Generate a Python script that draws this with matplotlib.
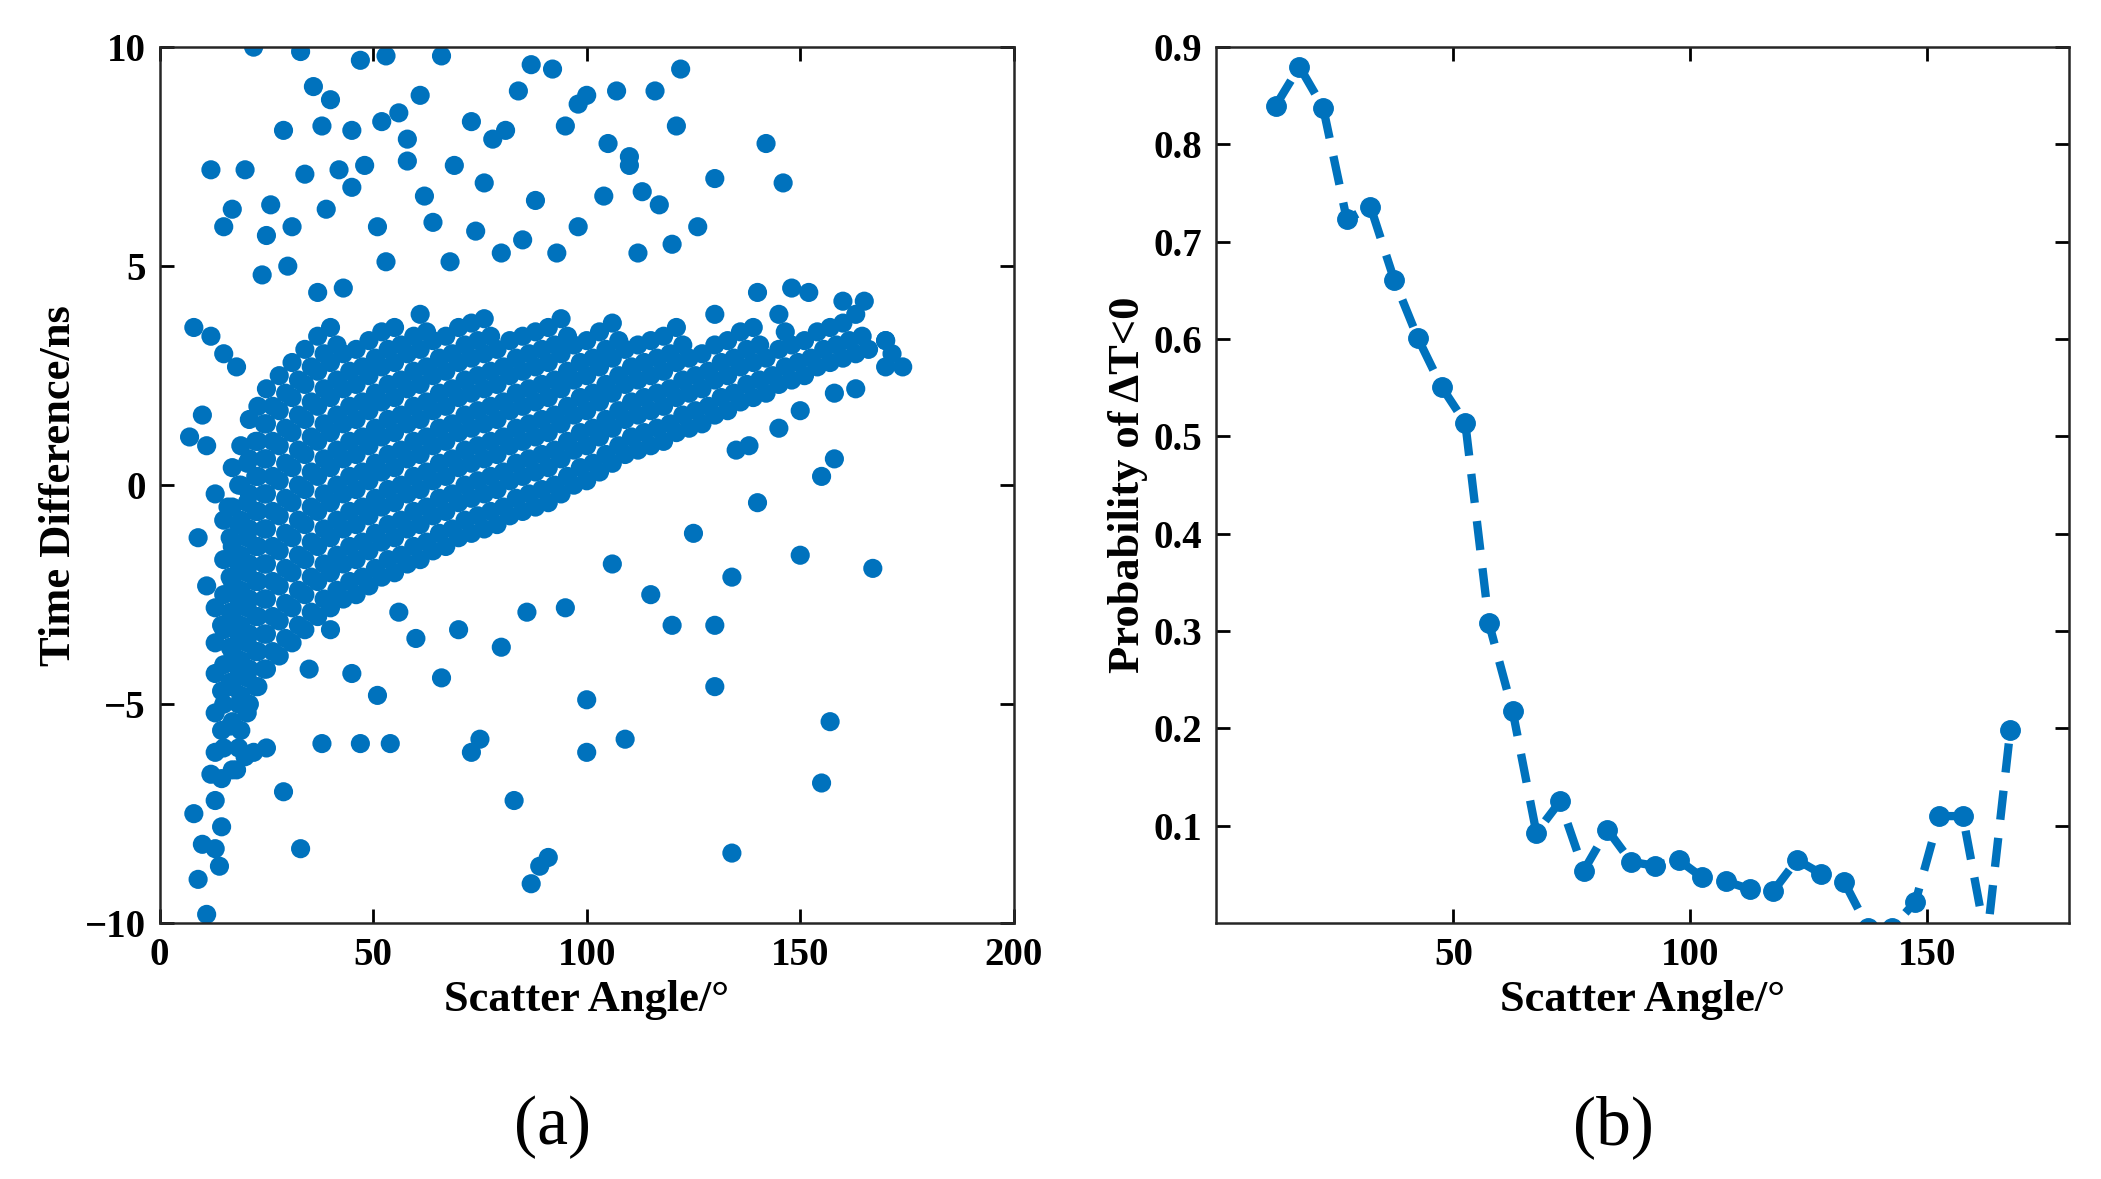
import matplotlib
matplotlib.use("Agg")
import matplotlib.pyplot as plt

# ---- panel (a): scatter of time difference vs scatter angle ----
# dense band, one column of y values per angle
band_x = [13, 15, 17, 19, 21, 23, 25, 28, 31, 34, 37, 40, 43, 46, 49, 52, 55, 58, 61, 64,
          67, 70, 73, 76, 79, 82, 85, 88, 91, 94, 97, 100, 103, 106, 109, 112, 115, 118, 121,
          124, 127, 130, 133, 136, 139, 142, 145, 148, 151, 154, 157, 160, 163, 166, 170]
band_y = [
    [-5.2, -4.3, -3.6, -2.8, -6.1, -7.2, -8.3],
    [-6, -5, -4.1, -3.3, -2.5, -1.7, -0.8],
    [-6.5, -5.4, -4.6, -3.8, -3, -2.2, -1.4, -0.5, 0.4],
    [-5.6, -4.8, -4, -3.2, -2.4, -1.6, -0.8, 0, 0.9],
    [-5, -4.2, -3.4, -2.6, -1.8, -1, -0.2, 0.6, 1.5],
    [-4.6, -3.8, -3, -2.2, -1.4, -0.6, 0.2, 1, 1.8],
    [-4.2, -3.4, -2.6, -1.8, -1, -0.2, 0.6, 1.4, 2.2],
    [-3.9, -3.1, -2.3, -1.5, -0.7, 0.1, 0.9, 1.7, 2.5],
    [-3.6, -2.8, -2, -1.2, -0.4, 0.4, 1.2, 2, 2.8],
    [-3.3, -2.5, -1.7, -0.9, -0.1, 0.7, 1.5, 2.3, 3.1],
    [-3, -2.2, -1.4, -0.6, 0.2, 1, 1.8, 2.6, 3.4],
    [-2.8, -2, -1.2, -0.4, 0.4, 1.2, 2, 2.8, 3.6],
    [-2.6, -1.8, -1, -0.2, 0.6, 1.4, 2.2, 3],
    [-2.5, -1.7, -0.9, -0.1, 0.7, 1.5, 2.3, 3.1],
    [-2.3, -1.5, -0.7, 0.1, 0.9, 1.7, 2.5, 3.3],
    [-2.1, -1.3, -0.5, 0.3, 1.1, 1.9, 2.7, 3.5],
    [-2, -1.2, -0.4, 0.4, 1.2, 2, 2.8, 3.6],
    [-1.8, -1, -0.2, 0.6, 1.4, 2.2, 3],
    [-1.7, -0.9, -0.1, 0.7, 1.5, 2.3, 3.1, 3.9],
    [-1.5, -0.7, 0.1, 0.9, 1.7, 2.5, 3.3],
    [-1.4, -0.6, 0.2, 1, 1.8, 2.6, 3.4],
    [-1.2, -0.4, 0.4, 1.2, 2, 2.8, 3.6],
    [-1.1, -0.3, 0.5, 1.3, 2.1, 2.9, 3.7],
    [-1, -0.2, 0.6, 1.4, 2.2, 3, 3.8],
    [-0.9, -0.1, 0.7, 1.5, 2.3, 3.1],
    [-0.7, 0.1, 0.9, 1.7, 2.5, 3.3],
    [-0.6, 0.2, 1, 1.8, 2.6, 3.4],
    [-0.5, 0.3, 1.1, 1.9, 2.7, 3.5],
    [-0.4, 0.4, 1.2, 2, 2.8, 3.6],
    [-0.2, 0.6, 1.4, 2.2, 3, 3.8],
    [0, 0.8, 1.6, 2.4, 3.2],
    [0.1, 0.9, 1.7, 2.5, 3.3],
    [0.3, 1.1, 1.9, 2.7, 3.5],
    [0.5, 1.3, 2.1, 2.9, 3.7],
    [0.7, 1.5, 2.3, 3.1],
    [0.8, 1.6, 2.4, 3.2],
    [0.9, 1.7, 2.5, 3.3],
    [1, 1.8, 2.6, 3.4],
    [1.2, 2, 2.8, 3.6],
    [1.3, 2.1, 2.9],
    [1.4, 2.2, 3],
    [1.6, 2.4, 3.2],
    [1.7, 2.5, 3.3],
    [1.9, 2.7, 3.5],
    [2, 2.8, 3.6],
    [2.1, 2.9],
    [2.3, 3.1, 3.9],
    [2.4, 3.2],
    [2.5, 3.3],
    [2.7, 3.5],
    [2.8, 3.6],
    [2.9, 3.7],
    [3, 3.9],
    [3.1],
    [2.7, 3.3],
]
# in-between events of the band (same angle columns)
band_y_mid = [
    [-4.7, -3.2, -5.6, -6.7, -7.8],
    [-5.5, -4.5, -3.7, -2.9, -2.1, -1.2],
    [-6, -5, -4.2, -3.4, -2.6, -1.8, -0.9, 0],
    [-5.2, -4.4, -3.6, -2.8, -2, -1.2, -0.4, 0.5],
    [-4.6, -3.8, -3, -2.2, -1.4, -0.6, 0.2, 1],
    [-4.2, -3.4, -2.6, -1.8, -1, -0.2, 0.6, 1.4],
    [-3.8, -3, -2.2, -1.4, -0.6, 0.2, 1, 1.8],
    [-3.5, -2.7, -1.9, -1.1, -0.3, 0.5, 1.3, 2.1],
    [-3.2, -2.4, -1.6, -0.8, 0, 0.8, 1.6, 2.4],
    [-2.9, -2.1, -1.3, -0.5, 0.3, 1.1, 1.9, 2.7],
    [-2.6, -1.8, -1, -0.2, 0.6, 1.4, 2.2, 3],
    [-2.4, -1.6, -0.8, 0, 0.8, 1.6, 2.4, 3.2],
    [-2.2, -1.4, -0.6, 0.2, 1, 1.8, 2.6],
    [-2.1, -1.3, -0.5, 0.3, 1.1, 1.9, 2.7],
    [-1.9, -1.1, -0.3, 0.5, 1.3, 2.1, 2.9],
    [-1.7, -0.9, -0.1, 0.7, 1.5, 2.3, 3.1],
    [-1.6, -0.8, 0, 0.8, 1.6, 2.4, 3.2],
    [-1.4, -0.6, 0.2, 1, 1.8, 2.6, 3.4],
    [-1.3, -0.5, 0.3, 1.1, 1.9, 2.7, 3.5],
    [-1.1, -0.3, 0.5, 1.3, 2.1, 2.9],
    [-1, -0.2, 0.6, 1.4, 2.2, 3],
    [-0.8, 0, 0.8, 1.6, 2.4, 3.2],
    [-0.7, 0.1, 0.9, 1.7, 2.5, 3.3],
    [-0.6, 0.2, 1, 1.8, 2.6, 3.4],
    [-0.5, 0.3, 1.1, 1.9, 2.7],
    [-0.3, 0.5, 1.3, 2.1, 2.9],
    [-0.2, 0.6, 1.4, 2.2, 3],
    [-0.1, 0.7, 1.5, 2.3, 3.1],
    [0, 0.8, 1.6, 2.4, 3.2],
    [0.2, 1, 1.8, 2.6, 3.4],
    [0.4, 1.2, 2, 2.8],
    [0.5, 1.3, 2.1, 2.9],
    [0.7, 1.5, 2.3, 3.1],
    [0.9, 1.7, 2.5, 3.3],
    [1.1, 1.9, 2.7],
    [1.2, 2, 2.8],
    [1.3, 2.1, 2.9],
    [1.4, 2.2, 3],
    [1.6, 2.4, 3.2],
    [1.7, 2.5],
    [1.8, 2.6],
    [2, 2.8],
    [2.1, 2.9],
    [2.3, 3.1],
    [2.4, 3.2],
    [2.5],
    [2.7, 3.5],
    [2.8],
    [2.9],
    [3.1],
    [3.2],
    [3.3],
    [3.4],
    [],
    [3],
]

# scattered events outside the band
outlier_x = [22, 33, 47, 53, 66, 36, 40, 56, 61, 73, 84, 87, 92, 100, 107, 116, 122, 29, 42, 48,
             58, 69, 78, 95, 110, 121, 142, 146, 130, 12, 20, 26, 34, 45, 62, 76, 88, 104, 117,
             126, 15, 17, 25, 31, 39, 51, 64, 74, 85, 98, 112, 24, 30, 37, 43, 53, 68, 80, 93,
             120, 8, 12, 15, 18, 10, 11, 7, 9, 13, 11, 16, 25, 29, 33, 38, 47, 51, 54, 56, 66,
             73, 75, 83, 87, 89, 91, 86, 95, 100, 109, 100, 120, 130, 130, 134, 134, 150, 155,
             157, 167, 158, 155, 140, 125, 115, 106, 80, 70, 60, 45, 35, 40, 11, 9, 10, 8, 12,
             14, 18, 20, 22, 130, 140, 148, 152, 160, 165, 170, 163, 174, 158, 150, 145, 138,
             135, 52, 45, 38, 58, 81, 98, 113, 110, 105]
outlier_y = [10, 9.9, 9.7, 9.8, 9.8, 9.1, 8.8, 8.5, 8.9, 8.3, 9, 9.6, 9.5, 8.9, 9, 9, 9.5, 8.1,
             7.2, 7.3, 7.4, 7.3, 7.9, 8.2, 7.5, 8.2, 7.8, 6.9, 7, 7.2, 7.2, 6.4, 7.1, 6.8, 6.6,
             6.9, 6.5, 6.6, 6.4, 5.9, 5.9, 6.3, 5.7, 5.9, 6.3, 5.9, 6, 5.8, 5.6, 5.9, 5.3, 4.8,
             5, 4.4, 4.5, 5.1, 5.1, 5.3, 5.3, 5.5, 3.6, 3.4, 3, 2.7, 1.6, 0.9, 1.1, -1.2, -0.2,
             -2.3, -0.5, -6, -7, -8.3, -5.9, -5.9, -4.8, -5.9, -2.9, -4.4, -6.1, -5.8, -7.2,
             -9.1, -8.7, -8.5, -2.9, -2.8, -6.1, -5.8, -4.9, -3.2, -3.2, -4.6, -8.4, -2.1, -1.6,
             -6.8, -5.4, -1.9, 0.6, 0.2, -0.4, -1.1, -2.5, -1.8, -3.7, -3.3, -3.5, -4.3, -4.2,
             -3.3, -9.8, -9, -8.2, -7.5, -6.6, -8.7, -6.5, -6.2, -6.1, 3.9, 4.4, 4.5, 4.4, 4.2,
             4.2, 3.3, 2.2, 2.7, 2.1, 1.7, 1.3, 0.9, 0.8, 8.3, 8.1, 8.2, 7.9, 8.1, 8.7, 6.7,
             7.3, 7.8]

# ---- panel (b): probability of negative time difference per 5 degree bin ----
bin_angle = [12.5, 17.5, 22.5, 27.5, 32.5, 37.5, 42.5, 47.5, 52.5, 57.5, 62.5, 67.5, 72.5,
             77.5, 82.5, 87.5, 92.5, 97.5, 102.5, 107.5, 112.5, 117.5, 122.5, 127.5, 132.5,
             137.5, 142.5, 147.5, 152.5, 157.5, 162.5, 167.5]
prob_neg = [0.84, 0.88, 0.838, 0.723, 0.736, 0.661, 0.601, 0.551, 0.514, 0.308, 0.218, 0.093,
            0.125, 0.054, 0.096, 0.063, 0.059, 0.065, 0.047, 0.043, 0.035, 0.033, 0.065, 0.051,
            0.042, -0.005, -0.005, 0.022, 0.11, 0.11, -0.02, 0.198]

blue = "#0072BD"
plt.rcParams["font.family"] = "Liberation Serif"
plt.rcParams["font.weight"] = "bold"

fig = plt.figure(figsize=(21.01, 11.79), dpi=100)
ax1 = fig.add_axes([0.076, 0.217, 0.4065, 0.743])
ax2 = fig.add_axes([0.579, 0.217, 0.406, 0.743])

sx, sy = [], []
for x, ys in zip(band_x, band_y):
    sx += [x] * len(ys)
    sy += ys
for x, ys in zip(band_x, band_y_mid):
    sx += [x + 1.5] * len(ys)
    sy += ys
sx += outlier_x
sy += outlier_y
ax1.scatter(sx, sy, s=190, color=blue, edgecolors="none")
ax1.set_xlim(0, 200)
ax1.set_ylim(-10, 10)
ax1.set_xticks([0, 50, 100, 150, 200])
ax1.set_yticks([-10, -5, 0, 5, 10])
ax1.set_xlabel("Scatter Angle/°", fontsize=32, fontweight="bold")
ax1.set_ylabel("Time Difference/ns", fontsize=32, fontweight="bold")

ax2.plot(bin_angle, prob_neg, color=blue, lw=6, dashes=(3.5, 2.2),
         marker="o", markersize=14)
ax2.set_xlim(0, 180)
ax2.set_ylim(0, 0.9)
ax2.set_xticks([50, 100, 150])
ax2.set_yticks([0.1, 0.2, 0.3, 0.4, 0.5, 0.6, 0.7, 0.8, 0.9])
ax2.set_yticklabels(["0.1", "0.2", "0.3", "0.4", "0.5", "0.6", "0.7", "0.8", "0.9"])
ax2.set_xlabel("Scatter Angle/°", fontsize=32, fontweight="bold")
ax2.set_ylabel("Probability of ΔT<0", fontsize=32, fontweight="bold")

for ax in (ax1, ax2):
    ax.tick_params(direction="in", top=True, right=True, length=10, width=2,
                   labelsize=28, pad=10)
    for sp in ax.spines.values():
        sp.set_linewidth(1.8)
        sp.set_color("#262626")

fig.text(0.263, 0.03, "(a)", fontsize=50, fontweight="normal", ha="center")
fig.text(0.768, 0.03, "(b)", fontsize=50, fontweight="normal", ha="center")

fig.savefig("out.png", dpi=100)
